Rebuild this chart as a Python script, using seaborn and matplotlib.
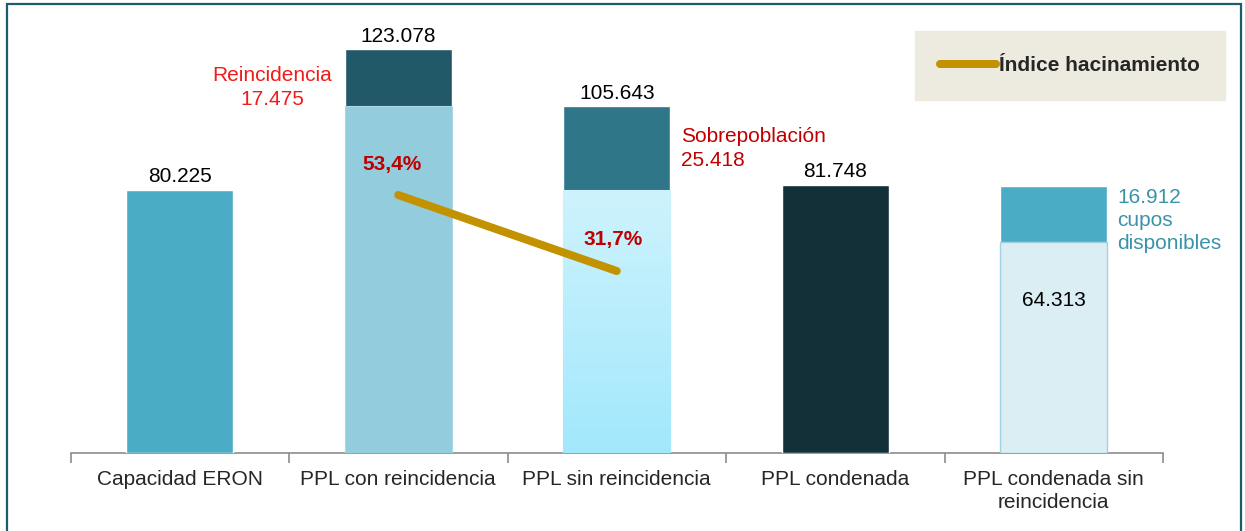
import numpy as np
import matplotlib
matplotlib.use("Agg")
import matplotlib.pyplot as plt
import seaborn as sns
from matplotlib.colors import LinearSegmentedColormap
from matplotlib.patches import Rectangle

# Datos
categorias = ["Capacidad ERON", "PPL con reincidencia", "PPL sin reincidencia",
              "PPL condenada", "PPL condenada sin\nreincidencia"]
base = [80225, 105603, 80225, 81748, 64313]
tope = [0, 17475, 25418, 0, 16912]
total = [b + t for b, t in zip(base, tope)]
indice_cats = ["PPL con reincidencia", "PPL sin reincidencia"]
indice_vals = [53.4, 31.7]

colores_base = ["#4BACC6", "#93CDDD", "#BDEFFC", "#132F38", "#DAEEF3"]
colores_tope = ["#4BACC6", "#215968", "#2F7689", "#132F38", "#4BACC6"]

def fmt(v):
    return f"{v:,}".replace(",", ".")

sns.set_style("white")
plt.rcParams["font.family"] = ["Liberation Sans", "DejaVu Sans"]

fig = plt.figure(figsize=(12.45, 5.31), dpi=100)
ax = fig.add_axes([70.5 / 1245, 78 / 531, (1163 - 70.5) / 1245, 425 / 531])

# Barras apiladas: primero el total (color del tope), luego la base encima
sns.barplot(x=categorias, y=total, hue=categorias, palette=colores_tope,
            legend=False, width=0.49, saturation=1, ax=ax, zorder=2)
sns.barplot(x=categorias, y=base, hue=categorias, palette=colores_base,
            legend=False, width=0.49, saturation=1, ax=ax, zorder=3)

barras_base = [c[0] for c in ax.containers[5:]]
barras_base[4].set_edgecolor("#A3D2DF")
barras_base[4].set_linewidth(1.0)
barras_base[1].set_edgecolor("#A9D8E4")
barras_base[1].set_linewidth(0.8)

# degradado en la barra "PPL sin reincidencia"
p = barras_base[2]
cmap = LinearSegmentedColormap.from_list("grad", ["#A2E8FC", "#CEF3FD"])
x0, w, h = p.get_x(), p.get_width(), p.get_height()
grad = ax.imshow(np.linspace(0, 1, 256).reshape(-1, 1), cmap=cmap, origin="lower",
                 extent=[x0, x0 + w, 0, h], aspect="auto", zorder=3.5)
grad.set_clip_path(p)
p.set_edgecolor("#B5E6F3")
p.set_linewidth(0.8)

ax.set_xlim(-0.5, 4.5)
ax.set_ylim(0, 129500)
ax.set_yticks([])
for s in ["left", "right", "top"]:
    ax.spines[s].set_visible(False)
ax.spines["bottom"].set_color("#8C8C8C")
ax.spines["bottom"].set_linewidth(1.2)
ax.set_xticks(np.arange(-0.5, 5, 1), minor=True)
ax.tick_params(axis="x", which="major", length=0, labelsize=15, pad=12)
ax.tick_params(axis="x", which="minor", bottom=True, length=7, color="#8C8C8C", width=1.2)
for lbl in ax.get_xticklabels():
    lbl.set_linespacing(1.3)
ax.set_xlabel("")
ax.set_facecolor("none")

# Etiquetas de valores sobre las barras
etiquetas = ["80.225", fmt(total[1]), fmt(total[2]), fmt(total[3])]
for i, t in enumerate(etiquetas):
    ax.annotate(t, (i, total[i]), xytext=(0, 9.3), textcoords="offset points",
                ha="center", va="center", fontsize=15, color="black")

ax.text(4, 46500, fmt(base[4]), ha="center", va="center", fontsize=15, color="black", zorder=5)

# Anotaciones laterales (una línea por texto)
ax.text(0.422, 115000, "Reincidencia", ha="center", va="center", fontsize=15, color="#F01B1B")
ax.text(0.422, 107700, fmt(tope[1]), ha="center", va="center", fontsize=15, color="#F01B1B")
ax.text(2.294, 96400, "Sobrepoblación", ha="left", va="center", fontsize=15, color="#C00000")
ax.text(2.294, 89100, fmt(tope[2]), ha="left", va="center", fontsize=15, color="#C00000")
for txt, y in zip([fmt(tope[4]), "cupos", "disponibles"], [77800, 70800, 63800]):
    ax.text(4.289, y, txt, ha="left", va="center", fontsize=15, color="#3A93A8")

# Índice de hacinamiento en eje secundario
ax2 = ax.twinx()
pos = [categorias.index(c) for c in indice_cats]
sns.lineplot(x=pos, y=indice_vals, ax=ax2, color="#C39200", linewidth=5.8,
             solid_capstyle="round", label="Índice hacinamiento", legend=False)
ax2.set_ylim(-20.27, 101.1)
ax2.set_xlim(-0.5, 4.5)
ax2.axis("off")

for x, v, y in zip(pos, indice_vals, [87900, 65050]):
    ax.text(x - 0.03 if x == 1 else x - 0.017, y, f"{v:.1f}%".replace(".", ","),
            ha="center", va="center", fontsize=15, fontweight="bold", color="#C00000", zorder=6)

leg = ax2.legend(loc="upper right", bbox_to_anchor=(1225 / 1245, 1 - 31 / 531),
                 bbox_transform=fig.transFigure, borderaxespad=0, frameon=True,
                 fancybox=False, facecolor="#EDEBE0", edgecolor="#EDEBE0",
                 borderpad=1.2, handlelength=2.7, handletextpad=0.15,
                 prop={"size": 15, "weight": "bold"})
leg.get_frame().set_alpha(1)

# Marco de la figura
fig.patches.append(Rectangle((7 / 1245, -0.02), 1234 / 1245, 1.02 - 4 / 531,
                             transform=fig.transFigure, fill=False,
                             edgecolor="#1F5C6B", linewidth=1.6))

fig.savefig("out.png", dpi=100)
